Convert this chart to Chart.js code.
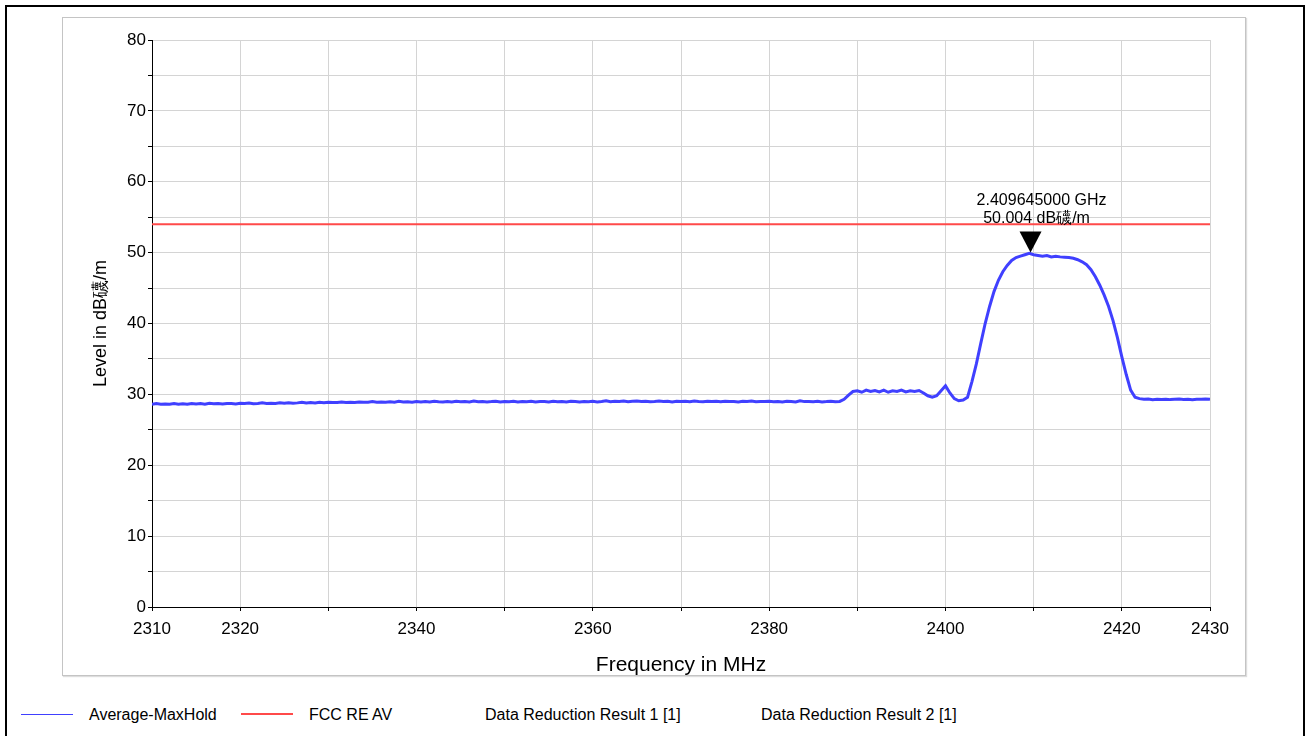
<!DOCTYPE html>
<html>
<head>
<meta charset="utf-8">
<script src="https://cdn.jsdelivr.net/npm/chart.js@4.4.1/dist/chart.umd.min.js"></script>
<style>
  html, body { margin: 0; padding: 0; background: #fff; }
  body { width: 1309px; height: 736px; overflow: hidden; position: relative;
         font-family: 'Liberation Sans', Arial, sans-serif; }
  #frame { position: absolute; left: 5px; top: 5px; width: 1296px; height: 740px;
           border: 2px solid #000; }
  #panel { position: absolute; left: 62px; top: 17px; width: 1182px; height: 657px;
           border: 1px solid #c4c4c4; box-shadow: 1px 1px 1px #ddd; }
  #wrap { position: absolute; left: 62px; top: 17px; width: 1183px; height: 661px; }
  .lg { position: absolute; top: 706px; font-size: 16px; color: #000; white-space: nowrap; }
  .sw { position: absolute; }
</style>
</head>
<body>
<div id="frame"></div>
<div id="panel"></div>
<div id="wrap"><canvas id="spectrumChart"></canvas></div>

<div class="sw" style="left:21px; top:714px; width:52px; height:1px; background:#4040ff"></div>
<div class="lg" style="left:89px">Average-MaxHold</div>
<div class="sw" style="left:241px; top:713px; width:52px; height:2px; background:#ff4a4a"></div>
<div class="lg" style="left:309px">FCC RE AV</div>
<div class="lg" style="left:485px">Data Reduction Result 1 [1]</div>
<div class="lg" style="left:761px">Data Reduction Result 2 [1]</div>

<script>
// sweep: 2310 MHz .. 2430 MHz, 0.5 MHz per sample
const freqStart = 2310;
const freqStep = 0.5;

// Average-MaxHold trace, dBµV/m
const levels = [
  28.6, 28.7, 28.6, 28.65, 28.6, 28.7, 28.62, 28.68, 28.6, 28.72,
  28.65, 28.7, 28.62, 28.75, 28.68, 28.7, 28.64, 28.72, 28.7, 28.66,
  28.74, 28.7, 28.78, 28.68, 28.72, 28.8, 28.7, 28.76, 28.72, 28.8,
  28.74, 28.82, 28.76, 28.8, 28.9, 28.78, 28.84, 28.8, 28.88, 28.82,
  28.9, 28.84, 28.86, 28.92, 28.84, 28.9, 28.86, 28.94, 28.88, 28.9,
  29.0, 28.9, 28.94, 28.88, 28.96, 28.9, 29.02, 28.92, 28.96, 28.9,
  28.98, 28.92, 29.0, 28.94, 29.04, 28.96, 28.92, 29.0, 28.94, 29.02,
  28.96, 29.0, 28.92, 29.06, 28.96, 29.0, 28.94, 28.98, 29.04, 28.94,
  29.0, 28.96, 29.02, 28.92, 29.0, 28.96, 29.04, 28.94, 29.0, 28.98,
  28.92, 29.02, 28.96, 29.0, 28.94, 29.04, 28.98, 28.92, 29.0, 28.96,
  29.02, 28.94, 29.0, 29.1, 28.96, 29.04, 28.98, 29.06, 28.96, 29.02,
  29.08, 28.98, 29.04, 28.96, 29.0, 29.06, 28.98, 29.02, 28.94, 29.04,
  28.98, 29.02, 28.96, 29.06, 29.0, 28.96, 29.04, 28.98, 29.02, 28.96,
  29.04, 28.98, 29.0, 28.94, 29.02, 28.98, 29.06, 28.96, 29.0, 28.98,
  29.02, 28.96, 29.0, 28.94, 29.04, 28.98, 28.92, 29.1, 28.98, 29.0,
  28.96, 29.02, 28.94, 28.98, 29.04, 28.96, 29.0, 29.3, 29.9, 30.4,
  30.5, 30.3, 30.6, 30.4, 30.55, 30.35, 30.6, 30.3, 30.5, 30.4,
  30.6, 30.35, 30.5, 30.4, 30.55, 30.2, 29.8, 29.6, 29.8, 30.5,
  31.2, 30.2, 29.4, 29.1, 29.2, 29.6, 31.8, 34.3, 37.2, 40.0,
  42.4, 44.5, 46.1, 47.3, 48.2, 48.9, 49.3, 49.5, 49.7, 49.9,
  49.7, 49.6, 49.5, 49.6, 49.4, 49.5, 49.4, 49.35, 49.3, 49.2,
  49.0, 48.7, 48.3, 47.6, 46.6, 45.4, 44.0, 42.4, 40.4, 38.0,
  35.3, 32.8, 30.6, 29.6, 29.4, 29.3, 29.35, 29.25, 29.3, 29.28,
  29.32, 29.26, 29.3, 29.35, 29.28, 29.3, 29.24, 29.32, 29.3, 29.36,
  29.3
];

// FCC RE AV limit
const limitFreqs = [2310, 2430];
const limitLevels = [54, 54];

const xTicks = [2310, 2320, 2330, 2340, 2350, 2360, 2370, 2380, 2390, 2400, 2410, 2420, 2430];
const xLabeled = [2310, 2320, 2340, 2360, 2380, 2400, 2420, 2430];

const marker = { freq: 2409.645, level: 50.004,
                 lines: ['2.409645000 GHz', '50.004 dB礣/m'] };

const FONT = "'Liberation Sans', Arial, sans-serif";

const markerPlugin = {
  id: 'marker',
  afterDatasetsDraw(chart) {
    const { ctx, scales } = chart;
    const x = scales.x.getPixelForValue(marker.freq);
    const y = scales.y.getPixelForValue(marker.level);
    ctx.save();
    ctx.fillStyle = '#000';
    ctx.beginPath();
    ctx.moveTo(x, y);
    ctx.lineTo(x - 11, y - 21);
    ctx.lineTo(x + 11, y - 21);
    ctx.closePath();
    ctx.fill();
    ctx.font = '16px ' + FONT;
    ctx.textAlign = 'center';
    ctx.textBaseline = 'middle';
    ctx.fillText(marker.lines[0], x + 11, y - 52);
    ctx.fillText(marker.lines[1], x + 6, y - 34);
    ctx.restore();
  }
};

new Chart(document.getElementById('spectrumChart'), {
  type: 'line',
  data: {
    datasets: [{
      label: 'Average-MaxHold',
      data: levels.map((v, i) => ({ x: freqStart + i * freqStep, y: v })),
      borderColor: '#4040ff',
      borderWidth: 3,
      pointRadius: 0,
      tension: 0
    }, {
      label: 'FCC RE AV',
      data: limitFreqs.map((f, i) => ({ x: f, y: limitLevels[i] })),
      borderColor: '#ff4a4a',
      borderWidth: 2,
      pointRadius: 0
    }]
  },
  options: {
    responsive: true,
    maintainAspectRatio: false,
    animation: false,
    layout: { padding: { left: 24, top: 23, right: 35, bottom: 0 } },
    plugins: {
      legend: { display: false },
      tooltip: { enabled: false }
    },
    scales: {
      x: {
        type: 'linear',
        min: 2310,
        max: 2430,
        afterBuildTicks: s => { s.ticks = xTicks.map(v => ({ value: v })); },
        afterFit: s => { s.height = 71; },
        grid: { color: '#d4d4d4', tickColor: '#000', tickLength: 4 },
        border: { color: '#000', width: 1 },
        ticks: {
          autoSkip: false, maxRotation: 0, padding: 8, color: '#000',
          font: { family: FONT, size: 17 },
          callback: v => xLabeled.includes(v) ? String(v) : ''
        },
        title: {
          display: true, text: 'Frequency in MHz', color: '#000',
          font: { family: FONT, size: 21 }, padding: { top: 0, bottom: 0 }
        }
      },
      y: {
        min: 0,
        max: 80,
        afterFit: s => { s.width = 66; },
        grid: { color: '#d4d4d4', tickColor: '#000', tickLength: 4 },
        border: { color: '#000', width: 1 },
        ticks: {
          stepSize: 5, padding: 2, color: '#000',
          font: { family: FONT, size: 17 },
          callback: v => v % 10 === 0 ? String(v) : ''
        },
        title: {
          display: true, text: 'Level in dB礣/m', color: '#000',
          font: { family: FONT, size: 18 }
        }
      }
    }
  },
  plugins: [markerPlugin]
});
</script>
</body>
</html>
